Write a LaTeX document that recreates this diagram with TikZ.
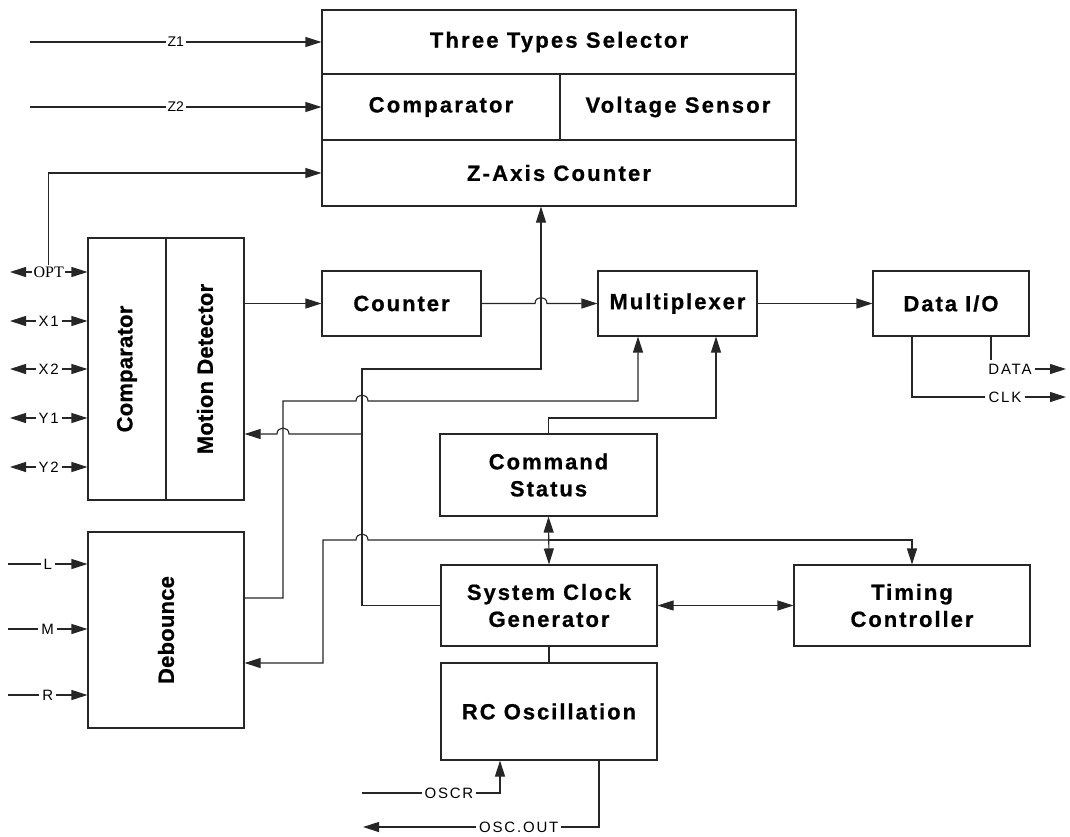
\documentclass[tikz,border=0pt]{standalone}
\usepackage{fontspec}
\setmainfont{Liberation Sans}
\newfontfamily\boxfont[LetterSpace=9, BoldFeatures={FakeBold=0.8}]{Liberation Sans}
\newfontfamily\topfont[LetterSpace=10, BoldFeatures={FakeBold=0.8}]{Liberation Sans}
\newfontfamily\rotfont[LetterSpace=1, BoldFeatures={FakeBold=0.8}]{Liberation Sans}
\newfontfamily\pinfont[LetterSpace=12]{Liberation Sans}
\newfontfamily\optfont{Liberation Serif}
\usetikzlibrary{arrows.meta}
\tikzset{
  blk/.style={draw=black!85, line width=1.1pt, fill=white, inner sep=0pt, align=center,
    font=\boxfont\bfseries\fontsize{22}{27}\selectfont},
  topblk/.style={blk, font=\topfont\bfseries\fontsize{22}{27}\selectfont},
  rotlbl/.style={rotate=90, inner sep=0pt, font=\rotfont\bfseries\fontsize{22}{27}\selectfont},
  wire/.style={draw=black!85, line width=1.1pt},
  arr/.style={wire, -{Triangle[length=16pt,width=10pt]}},
  dblarr/.style={wire, {Triangle[length=16pt,width=10pt]}-{Triangle[length=16pt,width=10pt]}},
  pinlbl/.style={fill=white, inner sep=3pt, font=\pinfont\fontsize{15}{17}\selectfont},
  zlbl/.style={fill=white, inner sep=2pt, font=\fontsize{14}{16}\selectfont},
  optlbl/.style={fill=white, inner sep=1.5pt, font=\optfont\fontsize{16}{18}\selectfont},
}
\begin{document}
\begin{tikzpicture}[x=1pt,y=-1pt]
\useasboundingbox (0,0) rectangle (1070,836);
% ---- top block
\node[topblk, minimum width=474, minimum height=64] (ts) at (559,42) {Three Types Selector};
\node[topblk, minimum width=238, minimum height=66] (cmpz) at (441,107) {Comparator};
\node[topblk, minimum width=236, minimum height=66] (vs) at (678,107) {Voltage Sensor};
\node[topblk, minimum width=474, minimum height=66] (za) at (559,173) {Z-Axis Counter};
% ---- left blocks
\node[blk, minimum width=78, minimum height=262] (cmpl) at (127,369) {};
\node[blk, minimum width=78, minimum height=262] (mot) at (205,369) {};
\node[rotlbl] (cmplt) at (cmpl.center) {Comparator};
\node[rotlbl] (mott) at (mot.center) {Motion Detector};
\node[blk, minimum width=156, minimum height=196] (deb) at (166,630) {};
\node[rotlbl] (debt) at (deb.center) {Debounce};
% ---- middle row
\node[blk, minimum width=159, minimum height=65] (cnt) at (401.5,303.5) {Counter};
\node[blk, minimum width=159, minimum height=65] (mux) at (677.5,303.5) {Multiplexer};
\node[blk, minimum width=156, minimum height=65] (dio) at (951,303.5) {Data I/O};
% ---- lower blocks
\node[blk, minimum width=217, minimum height=82] (cs) at (548.5,475) {Command\\Status};
\node[blk, minimum width=216, minimum height=81] (scg) at (549,605.5) {System Clock\\Generator};
\node[blk, minimum width=236, minimum height=81] (tc) at (912,605.5) {Timing\\Controller};
\node[blk, minimum width=216, minimum height=97] (rc) at (549,711.5) {RC Oscillation};
% ---- Z inputs
\draw[arr] (30,42) -- node[zlbl]{Z1} (ts.west);
\draw[arr] (30,107) -- node[zlbl]{Z2} (cmpz.west);
% ---- left pins
\draw[dblarr] (10,272) -- node[optlbl] (opt) {OPT} (cmpl.west |- 0,272);
\draw[arr] (opt.north) -- (opt.north |- za.west) -- (za.west);
\draw[dblarr] (10,321) -- node[pinlbl]{X1} (cmpl.west |- 0,321);
\draw[dblarr] (10,369) -- node[pinlbl]{X2} (cmpl.west |- 0,369);
\draw[dblarr] (10,418) -- node[pinlbl]{Y1} (cmpl.west |- 0,418);
\draw[dblarr] (10,467) -- node[pinlbl]{Y2} (cmpl.west |- 0,467);
\draw[arr] (8,564) -- node[pinlbl]{L} (deb.west |- 0,564);
\draw[arr] (8,629) -- node[pinlbl]{M} (deb.west |- 0,629);
\draw[arr] (8,695) -- node[pinlbl]{R} (deb.west |- 0,695);
% ---- main data path
\draw[arr] (mot.east |- cnt.west) -- (cnt.west);
\draw[arr] (cnt.east) -- (535,303.5) .. controls (535,295.5) and (547,295.5) .. (547,303.5) -- (mux.west);
\draw[arr] (mux.east) -- (dio.west);
% ---- Data I/O outputs
\node[pinlbl] (clk) at (1005,397) {CLK};
\node[pinlbl] (data) at (1010,369) {DATA};
\draw[wire] (dio.south -| 912,0) -- (912,397) -- (clk.west);
\draw[arr] (clk.east) -- (1066,397);
\draw[wire] (dio.south -| 991,0) -- (991,360);
\draw[arr] (data.east) -- (1066,369);
% ---- system clock to Z-axis counter
\draw[arr] (scg.west) -- (362,605.5) -- (362,369) -- (541,369) -- (za.south -| 541,0);
% ---- debounce to multiplexer
\draw[arr] (deb.east |- 0,598) -- (283,598) -- (283,401) -- (356,401) .. controls (356,393) and (368,393) .. (368,401) -- (638,401) -- (mux.south -| 638,0);
% ---- to motion detector
\draw[arr] (362,434) -- (289,434) .. controls (289,426) and (277,426) .. (277,434) -- (mot.east |- 0,434);
% ---- command status
\draw[arr] (cs.north) -- (548.5,418) -- (716,418) -- (mux.south -| 716,0);
\draw[dblarr] (cs.south) -- (scg.north);
\draw[arr] (548.5,540) -- (912,540) -- (tc.north);
\draw[arr] (548.5,540) -- (368,540) .. controls (368,532) and (356,532) .. (356,540) -- (323,540) -- (323,663) -- (deb.east |- 0,663);
% ---- clock / timing / oscillator
\draw[dblarr] (scg.east) -- (tc.west);
\draw[wire] (scg.south) -- (rc.north);
\draw[arr] (362,793) -- node[pinlbl, pos=0.63]{OSCR} (500,793) -- (rc.south -| 500,0);
\draw[arr] (rc.south -| 599,0) -- (599,827) -- node[pinlbl, pos=0.34]{OSC.OUT} (363,827);
\end{tikzpicture}
\end{document}
